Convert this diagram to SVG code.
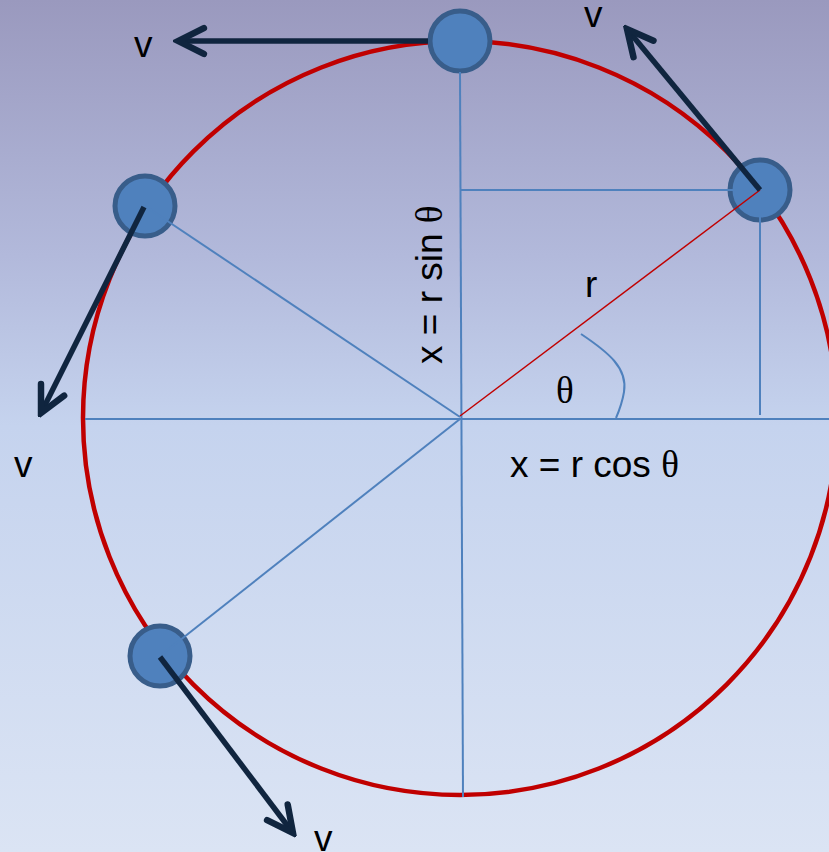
<svg xmlns="http://www.w3.org/2000/svg" width="829" height="852" viewBox="0 0 829 852">
<defs>
<linearGradient id="bg" x1="0" y1="0" x2="0" y2="1">
<stop offset="0" stop-color="#9a99be"/>
<stop offset="0.3" stop-color="#b2b9db"/>
<stop offset="0.5" stop-color="#c5d3ee"/>
<stop offset="1" stop-color="#dbe4f4"/>
</linearGradient>
<marker id="ah" markerUnits="userSpaceOnUse" markerWidth="40" markerHeight="40" viewBox="-30 -15 34 30" refX="0" refY="0" orient="auto">
<path d="M-22,-11 L0,0 L-22,11" fill="none" stroke="#10253f" stroke-width="5.5" stroke-linecap="round" stroke-linejoin="miter"/>
</marker>
<style>
.guide{stroke:#4f81bd;stroke-width:2;fill:none}
.vel{stroke:#10253f;stroke-width:5.5;fill:none;marker-end:url(#ah)}
.ball{fill:#4f81bd;stroke:#385d8a;stroke-width:5}
.lbl{font-family:"Liberation Sans",Arial,sans-serif;font-size:37px;fill:#000}
.greek{font-family:"Liberation Serif","Times New Roman",serif}
</style>
</defs>
<rect width="829" height="852" fill="url(#bg)"/>
<g id="path-circle">
<circle cx="460" cy="418" r="377" fill="none" stroke="#c00000" stroke-width="4.5"/>
</g>
<g id="ball-top"><circle class="ball" cx="460" cy="41" r="30"/></g>
<g id="ball-right"><circle class="ball" cx="760" cy="190" r="30"/></g>
<g id="ball-upper-left"><circle class="ball" cx="145" cy="206" r="30"/></g>
<g id="ball-lower-left"><circle class="ball" cx="160" cy="656" r="30"/></g>
<g id="connectors">
<line class="guide" x1="85" y1="419" x2="829" y2="419"/>
<line class="guide" x1="460" y1="72" x2="463" y2="797"/>
<line class="guide" x1="460" y1="190" x2="760" y2="190"/>
<line class="guide" x1="760" y1="190" x2="760" y2="415"/>
<line class="guide" x1="460" y1="417" x2="145" y2="206"/>
<line class="guide" x1="460" y1="419" x2="160" y2="656"/>
<path class="guide" d="M581,334 C608,352 628,368 624,392 C622,404 619,411 616,418"/>
<line x1="460" y1="416" x2="760" y2="190" stroke="#c00000" stroke-width="1.5"/>
<line class="vel" x1="428" y1="41" x2="178" y2="41"/>
<line class="vel" x1="760" y1="190" x2="627" y2="29"/>
<line class="vel" x1="144" y1="207" x2="41" y2="413"/>
<line class="vel" x1="160" y1="657" x2="293" y2="833"/>
</g>
<g id="labels">
<text class="lbl" x="134" y="57">v</text>
<text class="lbl" x="584" y="27">v</text>
<text class="lbl" x="14" y="477">v</text>
<text class="lbl" x="314" y="851">v</text>
<text class="lbl" x="585" y="297">r</text>
<text class="lbl greek" x="556" y="403">θ</text>
<text class="lbl" x="510" y="477">x = r cos <tspan class="greek">θ</tspan></text>
<text class="lbl" transform="translate(442,364) rotate(-90)">x = r sin <tspan class="greek">θ</tspan></text>
</g>
</svg>
